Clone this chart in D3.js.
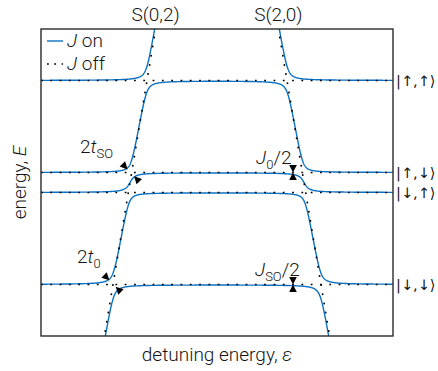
<!DOCTYPE html>
<html>
<head>
<meta charset="utf-8">
<script src="https://cdn.jsdelivr.net/npm/d3@7"></script>
<style>
  body { margin: 0; background: #fff; }
  svg text { font-family: Roboto, "Liberation Sans", sans-serif; font-weight: 300; fill: #151515; }
  svg text.ket { font-family: "DejaVu Sans", sans-serif; font-weight: 400; }
</style>
</head>
<body>
<svg id="chart" width="438" height="371"></svg>
<script>
// Detuning and energy span of the plot window (arbitrary units)
const detuningRange = [-176, 176];
const energyRange = [-153.5, 153.5];

// (1,1) spin states: energies at zero exchange
const spinStates = ["|↑,↑⟩", "|↑,↓⟩", "|↓,↑⟩", "|↓,↓⟩"];
const spinEnergies = [102, 10, -10, -102];

// Doubly occupied singlets: E = slope * ε + offset
const singletNames = ["S(0,2)", "S(2,0)"];
const singletSlopes = [6, -6];
const singletOffsets = [522, 522];

// Tunnel couplings of each singlet to the four spin states
const tunnelS02 = [13, 11, 11, 13];
const tunnelS20 = [13, 11, 11, 13];

const legendLabels = ["on", "off"];

const margin = { left: 41, right: 45, top: 29, bottom: 35 };
const W = 438, H = 371;
const svg = d3.select("#chart");

const x = d3.scaleLinear().domain(detuningRange).range([margin.left, W - margin.right]);
const y = d3.scaleLinear().domain(energyRange).range([H - margin.bottom, margin.top]);

const blue = "#0a72c4";
const ink = "#222";

// Symmetric eigenvalues by cyclic Jacobi rotations
function eigenvalues(M) {
  const n = M.length;
  const a = M.map(r => r.slice());
  for (let sweep = 0; sweep < 60; sweep++) {
    let off = 0;
    for (let p = 0; p < n; p++) for (let q = p + 1; q < n; q++) off += a[p][q] * a[p][q];
    if (off < 1e-20) break;
    for (let p = 0; p < n - 1; p++) {
      for (let q = p + 1; q < n; q++) {
        if (Math.abs(a[p][q]) < 1e-14) continue;
        const th = (a[q][q] - a[p][p]) / (2 * a[p][q]);
        const t = (th >= 0 ? 1 : -1) / (Math.abs(th) + Math.sqrt(th * th + 1));
        const c = 1 / Math.sqrt(t * t + 1), s = t * c;
        for (let k = 0; k < n; k++) {
          const akp = a[k][p], akq = a[k][q];
          a[k][p] = c * akp - s * akq;
          a[k][q] = s * akp + c * akq;
        }
        for (let k = 0; k < n; k++) {
          const apk = a[p][k], aqk = a[q][k];
          a[p][k] = c * apk - s * aqk;
          a[q][k] = s * apk + c * aqk;
        }
      }
    }
  }
  return a.map((r, i) => r[i]).sort((u, v) => v - u);
}

function hamiltonian(eps) {
  const n = 2 + spinEnergies.length;
  const M = Array.from({ length: n }, () => new Array(n).fill(0));
  M[0][0] = singletSlopes[0] * eps + singletOffsets[0];
  M[1][1] = singletSlopes[1] * eps + singletOffsets[1];
  spinEnergies.forEach((e, i) => {
    M[i + 2][i + 2] = e;
    M[0][i + 2] = M[i + 2][0] = tunnelS02[i];
    M[1][i + 2] = M[i + 2][1] = tunnelS20[i];
  });
  return M;
}

// Adiabatic branches (J on)
const step = 0.25;
const epsGrid = d3.range(detuningRange[0], detuningRange[1] + step / 2, step);
const nLevels = 2 + spinEnergies.length;
const branches = Array.from({ length: nLevels }, () => []);
epsGrid.forEach(eps => {
  const ev = eigenvalues(hamiltonian(eps));
  ev.forEach((E, k) => branches[k].push([eps, E]));
});

svg.append("defs").append("clipPath").attr("id", "plot-clip")
  .append("rect")
  .attr("x", x.range()[0]).attr("y", y.range()[1])
  .attr("width", x.range()[1] - x.range()[0])
  .attr("height", y.range()[0] - y.range()[1]);

const plot = svg.append("g").attr("clip-path", "url(#plot-clip)");
const line = d3.line().x(d => x(d[0])).y(d => y(d[1]));

plot.selectAll("path.branch").data(branches).join("path")
  .attr("class", "branch")
  .attr("d", line)
  .attr("fill", "none")
  .attr("stroke", blue)
  .attr("stroke-width", 1.4);

// Diabatic lines (J off)
const diabatic = [];
spinEnergies.forEach(e => diabatic.push([[detuningRange[0], e], [detuningRange[1], e]]));
singletSlopes.forEach((m, i) => {
  const b = singletOffsets[i];
  diabatic.push([[(energyRange[0] - 5 - b) / m, energyRange[0] - 5], [(energyRange[1] + 5 - b) / m, energyRange[1] + 5]]);
});
plot.selectAll("path.diabatic").data(diabatic).join("path")
  .attr("class", "diabatic")
  .attr("d", line)
  .attr("fill", "none")
  .attr("stroke", "#000")
  .attr("stroke-width", 1.6)
  .attr("stroke-dasharray", "1.8,7.5");

// Frame
svg.append("rect")
  .attr("x", x.range()[0]).attr("y", y.range()[1])
  .attr("width", x.range()[1] - x.range()[0])
  .attr("height", y.range()[0] - y.range()[1])
  .attr("fill", "none").attr("stroke", "#2a2a2a").attr("stroke-width", 1.4);

// Singlet labels above the frame, centred on where each singlet leaves the top
svg.selectAll("text.singlet").data(singletNames).join("text")
  .attr("class", "singlet")
  .attr("x", (d, i) => x((energyRange[1] - singletOffsets[i]) / singletSlopes[i]))
  .attr("y", 21)
  .attr("text-anchor", "middle")
  .attr("font-size", 19)
  .text(d => d);

// Spin state labels on the right (arrows forced to text presentation)
svg.selectAll("text.ket").data(spinStates).join("text")
  .attr("class", "ket")
  .attr("x", x.range()[1] + 3)
  .attr("y", (d, i) => y(spinEnergies[i]) + 5.5)
  .attr("font-size", 14.5)
  .attr("fill", ink)
  .text(d => d.replace(/([↑↓])/g, "$1\uFE0E"));

// Axis titles
svg.append("text")
  .attr("x", (x.range()[0] + x.range()[1]) / 2)
  .attr("y", 361)
  .attr("text-anchor", "middle")
  .attr("font-size", 19)
  .call(t => {
    t.append("tspan").text("detuning energy, ");
    t.append("tspan").attr("font-style", "italic").text("ε");
  });

svg.append("text")
  .attr("transform", `translate(26,${(y.range()[0] + y.range()[1]) / 2}) rotate(-90)`)
  .attr("text-anchor", "middle")
  .attr("font-size", 19)
  .call(t => {
    t.append("tspan").text("energy, ");
    t.append("tspan").attr("font-style", "italic").text("E");
  });

// Legend
const legend = svg.append("g");
legend.append("line").attr("x1", 47).attr("x2", 63).attr("y1", 41).attr("y2", 41)
  .attr("stroke", blue).attr("stroke-width", 1.4);
legend.append("line").attr("x1", 47).attr("x2", 63).attr("y1", 64).attr("y2", 64)
  .attr("stroke", "#000").attr("stroke-width", 1.6).attr("stroke-dasharray", "1.8,5.5");
legendLabels.forEach((lab, i) => {
  const t = legend.append("text").attr("x", 67).attr("y", 47 + i * 23).attr("font-size", 19);
  t.append("tspan").attr("font-style", "italic").text("J");
  t.append("tspan").text(" " + lab);
});

// Annotation helpers
function triangle(tip, dir, len, half) {
  const bx = tip[0] - dir[0] * len, by = tip[1] - dir[1] * len;
  const px = -dir[1], py = dir[0];
  return `M${tip[0]},${tip[1]}L${bx + px * half},${by + py * half}L${bx - px * half},${by - py * half}Z`;
}
function gapMarker(p1, p2) {
  const a = [x(p1[0]), y(p1[1])], b = [x(p2[0]), y(p2[1])];
  const dx = b[0] - a[0], dy = b[1] - a[1], L = Math.hypot(dx, dy);
  const u = [dx / L, dy / L];
  const len = 7.5, half = 3.8;
  const tipA = [a[0] + u[0] * len / 2, a[1] + u[1] * len / 2];
  const tipB = [b[0] - u[0] * len / 2, b[1] - u[1] * len / 2];
  svg.append("path").attr("d", triangle(tipA, u, len, half)).attr("fill", "#000");
  svg.append("path").attr("d", triangle(tipB, [-u[0], -u[1]], len, half)).attr("fill", "#000");
}
function label(px, py, main, sub, tail) {
  const t = svg.append("text").attr("x", px).attr("y", py).attr("font-size", 19);
  main.forEach(([s, it]) => t.append("tspan").attr("font-style", it ? "italic" : null).text(s));
  t.append("tspan").attr("font-size", 13).attr("dy", 5).text(sub);
  if (tail) t.append("tspan").attr("dy", -5).text(tail);
}

// Tunnel splittings at the S(0,2) crossings
gapMarker([-92, 15.8], [-80.3, 3.5]);
gapMarker([-110.3, -95.2], [-98.7, -106.8]);
label(80, 153, [["2", false], ["t", true]], "SO");
label(77, 263, [["2", false], ["t", true]], "0");

// Exchange shifts near the S(2,0) crossings
const shiftEps = 76;
[spinEnergies[1], spinEnergies[3]].forEach(e => {
  const cx = x(shiftEps), cy = y(e);
  svg.append("path").attr("d", triangle([cx, cy], [0, 1], 7.5, 3.8)).attr("fill", "#000");
  svg.append("path").attr("d", triangle([cx, cy], [0, -1], 7.5, 3.8)).attr("fill", "#000");
});
label(256, 164, [["J", true]], "0", "/2");
label(255, 276, [["J", true]], "SO", "/2");
</script>
</body>
</html>
